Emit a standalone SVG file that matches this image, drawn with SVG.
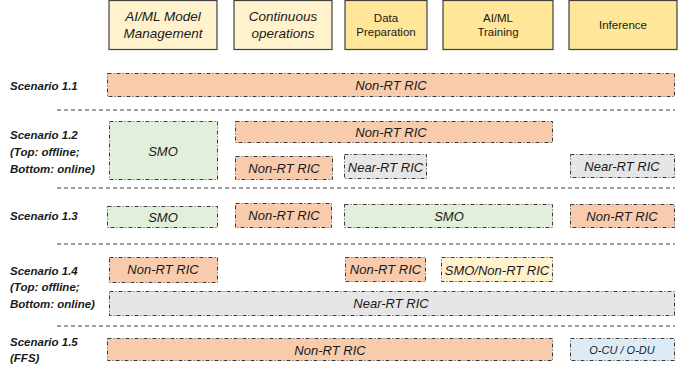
<svg xmlns="http://www.w3.org/2000/svg" width="683" height="366" viewBox="0 0 683 366">
<style>
.hdr{stroke:#404040;stroke-width:1.2}
.h1{fill:#FFF2CC}
.h2{fill:#FFE699}
.ht{font-family:"Liberation Sans",Arial,sans-serif;font-size:13.5px;font-style:italic;fill:#1a1a1a;text-anchor:middle}
.ht2{font-family:"Liberation Sans",Arial,sans-serif;font-size:11.5px;fill:#1a1a1a;text-anchor:middle}
.box{stroke:#3a3a3a;stroke-width:1;stroke-dasharray:4 2 1 2}
.or{fill:#F8CBAD}
.gr{fill:#E2EFDA}
.gy{fill:#E6E6E6}
.yl{fill:#FFF2CC}
.bl{fill:#DDEBF7}
.bt{font-family:"Liberation Sans",Arial,sans-serif;font-size:13px;font-style:italic;fill:#1a1a1a;text-anchor:middle;dominant-baseline:central}
.lb{font-family:"Liberation Sans",Arial,sans-serif;font-size:11.5px;font-style:italic;font-weight:bold;fill:#1a1a1a}
.sep{stroke:#404040;stroke-width:1;stroke-dasharray:4 3;fill:none}
</style>
<g id="headers">
<g id="h-mgmt"><rect class="hdr h1" x="109" y="0.5" width="108" height="49"/><text class="ht" x="163" y="21">AI/ML Model</text><text class="ht" x="163" y="38">Management</text></g>
<g id="h-cont"><rect class="hdr h1" x="234" y="0.5" width="98" height="49"/><text class="ht" x="283" y="21">Continuous</text><text class="ht" x="283" y="38">operations</text></g>
<g id="h-data"><rect class="hdr h2" x="345" y="0.5" width="82" height="49"/><text class="ht2" x="386" y="22">Data</text><text class="ht2" x="386" y="36">Preparation</text></g>
<g id="h-train"><rect class="hdr h2" x="443" y="0.5" width="110" height="49"/><text class="ht2" x="498" y="22">AI/ML</text><text class="ht2" x="498" y="36">Training</text></g>
<g id="h-inf"><rect class="hdr h2" x="569" y="0.5" width="108" height="49"/><text class="ht2" x="623" y="29">Inference</text></g>
</g>
<g id="labels">
<text class="lb" x="10" y="90">Scenario 1.1</text>
<text class="lb" x="10" y="139">Scenario 1.2</text>
<text class="lb" x="10" y="156">(Top: offline;</text>
<text class="lb" x="10" y="173">Bottom: online)</text>
<text class="lb" x="10" y="220">Scenario 1.3</text>
<text class="lb" x="10" y="275">Scenario 1.4</text>
<text class="lb" x="10" y="291">(Top: offline;</text>
<text class="lb" x="10" y="308">Bottom: online)</text>
<text class="lb" x="10" y="346">Scenario 1.5</text>
<text class="lb" x="10" y="362">(FFS)</text>
</g>
<g id="separators">
<line class="sep" x1="57" y1="110" x2="675" y2="110"/>
<line class="sep" x1="57" y1="188" x2="675" y2="188"/>
<line class="sep" x1="57" y1="244" x2="675" y2="244"/>
<line class="sep" x1="57" y1="326" x2="675" y2="326"/>
</g>
<g id="s11-nonrt"><rect class="box or" x="107.5" y="73.5" width="567" height="23"/><text class="bt" x="391" y="85">Non-RT RIC</text></g>
<g id="s12-smo"><rect class="box gr" x="109.5" y="121.5" width="108" height="58"/><text class="bt" x="163" y="151">SMO</text></g>
<g id="s12-nonrt-top"><rect class="box or" x="235.5" y="121.5" width="317" height="21"/><text class="bt" x="391" y="132">Non-RT RIC</text></g>
<g id="s12-nonrt-bot"><rect class="box or" x="235.5" y="156.5" width="97" height="23"/><text class="bt" x="284" y="168">Non-RT RIC</text></g>
<g id="s12-nearrt-mid"><rect class="box gy" x="344.5" y="154.5" width="82" height="24"/><text class="bt" x="385.5" y="167">Near-RT RIC</text></g>
<g id="s12-nearrt-right"><rect class="box gy" x="570.5" y="154.5" width="104" height="23"/><text class="bt" x="622" y="166">Near-RT RIC</text></g>
<g id="s13-smo"><rect class="box gr" x="107.5" y="206.5" width="110" height="21"/><text class="bt" x="163" y="217">SMO</text></g>
<g id="s13-nonrt"><rect class="box or" x="235.5" y="203.5" width="96" height="24"/><text class="bt" x="284" y="215">Non-RT RIC</text></g>
<g id="s13-smo2"><rect class="box gr" x="344.5" y="204.5" width="208" height="23"/><text class="bt" x="449" y="216">SMO</text></g>
<g id="s13-nonrt2"><rect class="box or" x="570.5" y="204.5" width="104" height="23"/><text class="bt" x="622" y="216">Non-RT RIC</text></g>
<g id="s14-nonrt"><rect class="box or" x="109.5" y="257.5" width="108" height="25"/><text class="bt" x="163" y="269">Non-RT RIC</text></g>
<g id="s14-nonrt2"><rect class="box or" x="345.5" y="257.5" width="80" height="24"/><text class="bt" x="385.5" y="269">Non-RT RIC</text></g>
<g id="s14-smo-nonrt"><rect class="box yl" x="441.5" y="257.5" width="111" height="24"/><text class="bt" x="497" y="270">SMO/Non-RT RIC</text></g>
<g id="s14-nearrt"><rect class="box gy" x="109.5" y="291.5" width="565" height="24"/><text class="bt" x="391" y="303">Near-RT RIC</text></g>
<g id="s15-nonrt"><rect class="box or" x="107.5" y="338.5" width="445" height="22"/><text class="bt" x="330" y="350">Non-RT RIC</text></g>
<g id="s15-ocu"><rect class="box bl" x="570.5" y="338.5" width="104" height="22"/><text class="bt" x="622" y="350" style="font-size:11px">O-CU / O-DU</text></g>
</svg>
